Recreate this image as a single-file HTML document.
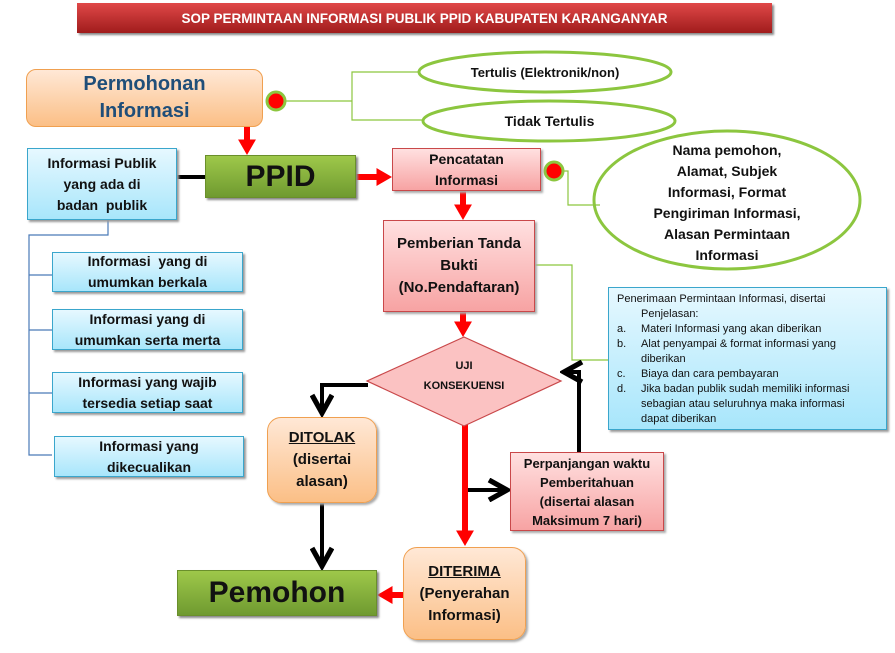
<!DOCTYPE html>
<html><head><meta charset="utf-8"><style>
body{margin:0;width:895px;height:653px;background:#fff;position:relative;overflow:hidden;font-family:"Liberation Sans",sans-serif}
.b{position:absolute;box-sizing:border-box;display:flex;align-items:center;justify-content:center;text-align:center;font-weight:bold;color:#111}
.blue{background:linear-gradient(#e6f8ff,#a8e6fb);border:1.5px solid #3aa6cc;box-shadow:2px 2px 2px #999;font-size:14px;line-height:21px}
.pink{background:linear-gradient(#ffe0e0,#f7a3a3);border:1.5px solid #c9484a;font-size:14px;line-height:21px;box-shadow:2px 2px 2px #aaa}
.org{background:linear-gradient(#ffe8d6,#fbbf86);border:1.5px solid #f0a050;border-radius:14px;font-size:15px;line-height:22px;box-shadow:2px 2px 2px #aaa}
.grn{background:linear-gradient(#9ec84a,#6f9a30);border:1px solid #6a8f2b;box-shadow:2px 2px 2px #888}
</style></head><body>
<svg width="895" height="653" style="position:absolute;left:0;top:0">
<defs>
<marker id="r" markerWidth="2.6" markerHeight="3" refX="0.6" refY="1.5" orient="auto" markerUnits="strokeWidth"><path d="M0,0 L2.6,1.5 L0,3z" fill="#f00"/></marker>
<marker id="k" markerWidth="6" markerHeight="6" refX="5" refY="3" orient="auto" markerUnits="strokeWidth"><path d="M0.5,0.5 L5,3 L0.5,5.5" fill="none" stroke="#000" stroke-width="1.3"/></marker>
</defs>
<g fill="none" stroke="#8cc63f" stroke-width="1.2">
<path d="M285,101 H352 V72 H420 M352,101 V120 H424"/>
<path d="M563,171 H568 V205 H600"/>
<path d="M535,265 H572 V360 H610"/>
<ellipse cx="545" cy="72" rx="126" ry="20" stroke-width="3"/>
<ellipse cx="549" cy="121" rx="126" ry="20" stroke-width="3"/>
<ellipse cx="727" cy="200" rx="133" ry="69" stroke-width="3"/>
</g>
<path d="M108,220 V235 H29 V455 H52 M29,275 H52 M29,330 H52 M29,393 H52" fill="none" stroke="#4a7ab8" stroke-width="1.2"/>
<g stroke="#f00" stroke-width="6" fill="none">
<line x1="247" y1="127" x2="247" y2="143" marker-end="url(#r)"/>
<line x1="356" y1="177" x2="380" y2="177" marker-end="url(#r)"/>
<line x1="463" y1="191" x2="463" y2="208" marker-end="url(#r)"/>
<line x1="463" y1="312" x2="463" y2="325" marker-end="url(#r)"/>
<line x1="465" y1="410" x2="465" y2="534" marker-end="url(#r)"/>
<line x1="403" y1="595" x2="389" y2="595" marker-end="url(#r)"/>
</g>
<line x1="177" y1="177" x2="205" y2="177" stroke="#000" stroke-width="4"/>
<g stroke="#000" stroke-width="4" fill="none">
<path d="M368,385 H322 V413" marker-end="url(#k)"/>
<line x1="322" y1="503" x2="322" y2="566" marker-end="url(#k)"/>
<line x1="468" y1="490" x2="507" y2="490" marker-end="url(#k)"/>
<path d="M579,452 V372 H564" marker-end="url(#k)"/>
</g>
<polygon points="464,337 561,381 464,426 367,381" fill="#fbc2c2" stroke="#c9484a" stroke-width="1.2"/>
<circle cx="276" cy="101" r="9" fill="#f00" stroke="#8cc63f" stroke-width="3"/>
<circle cx="554" cy="171" r="9" fill="#f00" stroke="#8cc63f" stroke-width="3"/>
</svg>
<div class="b" style="left:77px;top:3px;width:695px;height:30px;background:linear-gradient(#e04848,#a01c1c);color:#fff;font-size:13.5px;box-shadow:2px 2px 2px #888">SOP PERMINTAAN INFORMASI PUBLIK PPID KABUPATEN KARANGANYAR</div>
<div class="b" style="left:26px;top:69px;width:237px;height:58px;background:linear-gradient(#ffe8d6,#fbbf86);border:1.5px solid #f0a050;border-radius:10px;color:#1f4e79;font-size:20px;line-height:27px">Permohonan<br>Informasi</div>
<div class="b" style="left:418px;top:56px;width:254px;height:32px;font-size:13px">Tertulis (Elektronik/non)</div>
<div class="b" style="left:423px;top:105px;width:253px;height:32px;font-size:14px">Tidak Tertulis</div>
<div class="b blue" style="left:27px;top:148px;width:150px;height:72px">Informasi Publik<br>yang ada di<br>badan&nbsp; publik</div>
<div class="b grn" style="left:205px;top:155px;width:151px;height:43px;font-size:30px">PPID</div>
<div class="b pink" style="left:392px;top:148px;width:149px;height:43px">Pencatatan<br>Informasi</div>
<div class="b" style="left:600px;top:140px;width:254px;height:125px;font-size:14px;line-height:21px">Nama pemohon,<br>Alamat, Subjek<br>Informasi, Format<br>Pengiriman Informasi,<br>Alasan Permintaan<br>Informasi</div>
<div class="b pink" style="left:383px;top:220px;width:152px;height:92px;line-height:22px;font-size:15px">Pemberian Tanda<br>Bukti<br>(No.Pendaftaran)</div>
<div class="b blue" style="left:52px;top:252px;width:191px;height:40px">Informasi&nbsp; yang di<br>umumkan berkala</div>
<div class="b blue" style="left:52px;top:309px;width:191px;height:41px">Informasi yang di<br>umumkan serta merta</div>
<div class="b blue" style="left:52px;top:372px;width:191px;height:41px">Informasi yang wajib<br>tersedia setiap saat</div>
<div class="b blue" style="left:54px;top:436px;width:190px;height:41px">Informasi yang<br>dikecualikan</div>
<div class="b blue" style="left:608px;top:287px;width:279px;height:143px;display:block;text-align:left;font-size:11px;line-height:15px;padding:4px 8px;font-weight:normal">
<div>Penerimaan Permintaan Informasi, disertai</div><div style="padding-left:24px">Penjelasan:</div>
<div style="display:flex"><span style="width:24px">a.</span><span>Materi Informasi yang akan diberikan</span></div>
<div style="display:flex"><span style="width:24px;flex:none">b.</span><span>Alat penyampai &amp; format informasi yang<br>diberikan</span></div>
<div style="display:flex"><span style="width:24px">c.</span><span>Biaya dan cara pembayaran</span></div>
<div style="display:flex"><span style="width:24px;flex:none">d.</span><span>Jika badan publik sudah memiliki informasi<br>sebagian atau seluruhnya maka informasi<br>dapat diberikan</span></div></div>
<div class="b" style="left:404px;top:356px;width:120px;height:40px;font-size:11px;line-height:20px">UJI<br>KONSEKUENSI</div>
<div class="b org" style="left:267px;top:417px;width:110px;height:86px"><div><u>DITOLAK</u><br>(disertai<br>alasan)</div></div>
<div class="b pink" style="left:510px;top:452px;width:154px;height:79px;font-size:13px;line-height:19px">Perpanjangan waktu<br>Pemberitahuan<br>(disertai alasan<br>Maksimum 7 hari)</div>
<div class="b grn" style="left:177px;top:570px;width:200px;height:46px;font-size:30px">Pemohon</div>
<div class="b org" style="left:403px;top:547px;width:123px;height:93px"><div><u>DITERIMA</u><br>(Penyerahan<br>Informasi)</div></div>
</body></html>
